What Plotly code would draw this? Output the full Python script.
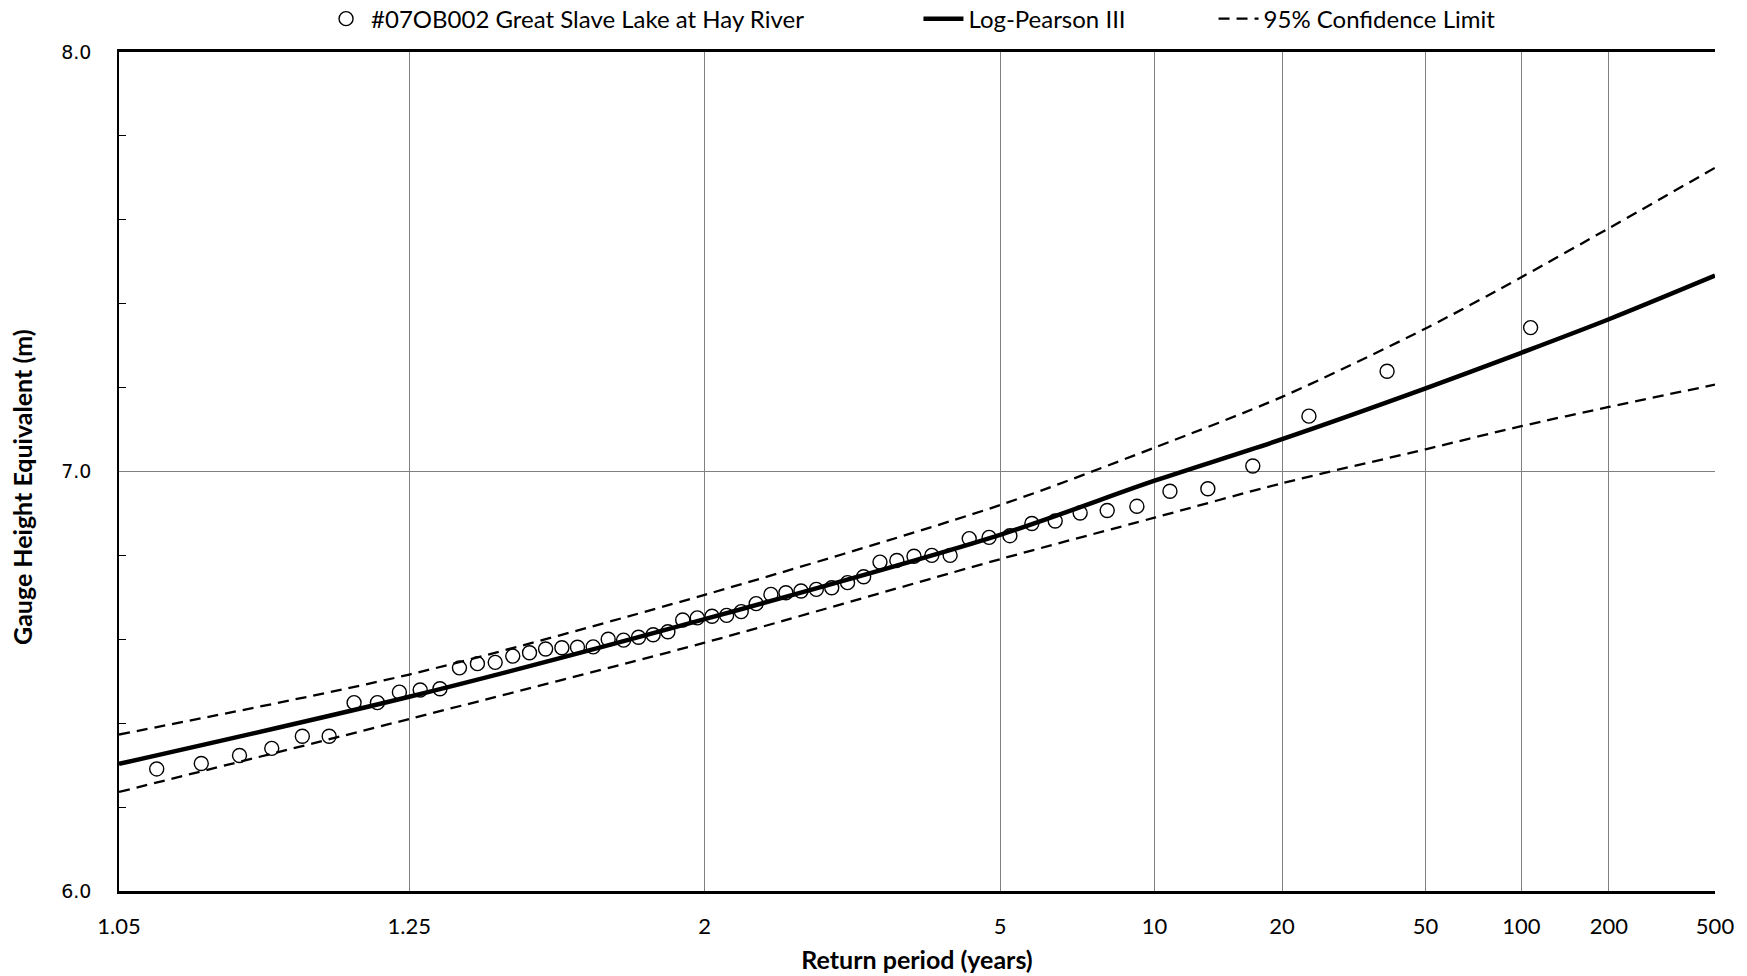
import plotly.graph_objects as go
from statistics import NormalDist

# ---------------- data ----------------
# Observed annual maxima (plotting-position return periods, years) and levels (m)
obs_return_period = [1.063, 1.082, 1.102, 1.122, 1.144, 1.166, 1.189, 1.213, 1.238, 1.264,
                     1.291, 1.320, 1.349, 1.380, 1.413, 1.447, 1.482, 1.520, 1.559, 1.601,
                     1.644, 1.691, 1.740, 1.791, 1.846, 1.905, 1.967, 2.034, 2.105, 2.181,
                     2.264, 2.352, 2.448, 2.552, 2.665, 2.788, 2.924, 3.074, 3.239, 3.424,
                     3.630, 3.864, 4.129, 4.434, 4.787, 5.201, 5.693, 6.289, 7.023, 7.952,
                     9.165, 10.81, 13.18, 16.89, 23.48, 38.54, 107.36]
obs_level = [6.291, 6.304, 6.323, 6.340, 6.369, 6.369, 6.449, 6.449, 6.474, 6.479,
             6.482, 6.532, 6.542, 6.545, 6.560, 6.568, 6.577, 6.580, 6.581, 6.582,
             6.600, 6.598, 6.605, 6.611, 6.618, 6.646, 6.651, 6.655, 6.657, 6.666,
             6.685, 6.707, 6.711, 6.715, 6.719, 6.723, 6.735, 6.749, 6.784, 6.788,
             6.798, 6.800, 6.800, 6.840, 6.843, 6.847, 6.876, 6.882, 6.901, 6.907,
             6.917, 6.953, 6.959, 7.013, 7.132, 7.239, 7.343]

curve_return_period = [1.05, 1.25, 2, 5, 10, 20, 50, 100, 200, 500]
lp3_level = [6.303, 6.463, 6.648, 6.849, 6.978, 7.077, 7.198, 7.283, 7.363, 7.467]
upper_cl = [6.373, 6.516, 6.706, 6.920, 7.057, 7.178, 7.341, 7.463, 7.580, 7.724]
lower_cl = [6.236, 6.410, 6.592, 6.791, 6.890, 6.972, 7.053, 7.108, 7.154, 7.207]

tick_periods = [1.05, 1.25, 2, 5, 10, 20, 50, 100, 200, 500]
tick_labels = ["1.05", "1.25", "2", "5", "10", "20", "50", "100", "200", "500"]

series_names = ["#07OB002 Great Slave Lake at Hay River", "Log-Pearson III", "95% Confidence Limit"]
x_title = "Return period (years)"
y_title = "Gauge Height Equivalent (m)"

# normal-probability axis transform
nd = NormalDist()
def zscale(T_list):
    return [nd.inv_cdf(1 - 1 / t) for t in T_list]

fig = go.Figure()

fig.add_trace(go.Scatter(
    x=zscale(obs_return_period), y=obs_level, mode="markers", name=series_names[0],
    marker=dict(symbol="circle-open", size=14, color="black", line=dict(width=1.4, color="black")),
    legend="legend",
))
fig.add_trace(go.Scatter(
    x=zscale(curve_return_period), y=lp3_level, mode="lines", name=series_names[1],
    line=dict(color="black", width=4.5, shape="spline", smoothing=0.8),
    legend="legend2",
))
fig.add_trace(go.Scatter(
    x=zscale(curve_return_period), y=upper_cl, mode="lines", name=series_names[2],
    line=dict(color="black", width=2.3, dash="11px,7px", shape="spline", smoothing=0.8),
    legend="legend3",
))
fig.add_trace(go.Scatter(
    x=zscale(curve_return_period), y=lower_cl, mode="lines", name=series_names[2],
    showlegend=False,
    line=dict(color="black", width=2.3, dash="11px,7px", shape="spline", smoothing=0.8),
    legend="legend3",
))

tz = zscale(tick_periods)

legend_font = dict(size=24, family="Lato, sans-serif", color="black")
leg_common = dict(orientation="h", y=1.0393, yanchor="middle", xanchor="left",
                  font=legend_font, bgcolor="rgba(0,0,0,0)", itemwidth=40)

fig.update_layout(
    width=1747, height=976,
    paper_bgcolor="white", plot_bgcolor="white",
    margin=dict(l=119, r=32, t=52, b=85, autoexpand=False),
    font=dict(family="Lato, sans-serif", color="black", size=20),
    legend=dict(x=0.1266, **leg_common),
    legend2=dict(x=0.5009, **leg_common),
    legend3=dict(x=0.6858, **leg_common),
    showlegend=True,
    annotations=[dict(
        text="<b>" + y_title + "</b>", textangle=-90, xref="paper", yref="paper",
        x=-0.0608, y=0.4815, xanchor="center", yanchor="middle", showarrow=False,
        font=dict(size=25, family="Lato, sans-serif", color="black"),
    )],
)

fig.update_xaxes(
    range=[tz[0], tz[-1]],
    tickmode="array", tickvals=tz, ticktext=tick_labels,
    showgrid=True, gridcolor="#808080", gridwidth=1,
    showline=True, linecolor="black", linewidth=3, mirror=True,
    ticks="", zeroline=False,
    tickfont=dict(size=22, family="Lato, sans-serif"),
    ticklabelstandoff=14,
    title=dict(text="<b>" + x_title + "</b>", font=dict(size=25, family="Lato, sans-serif"), standoff=14),
)
fig.update_yaxes(
    range=[6.0, 8.0], dtick=1.0, tick0=6.0, tickformat=".1f",
    showgrid=True, gridcolor="#808080", gridwidth=1,
    showline=True, linecolor="black", linewidth=1.5,
    ticks="", zeroline=False,
    minor=dict(dtick=0.2, ticks="inside", ticklen=7, tickcolor="black", tickwidth=1, showgrid=False),
    tickfont=dict(size=19, family="DejaVu Sans, Verdana, sans-serif"),
    ticklabelstandoff=22,
)

fig.write_html("out.html", config={"displayModeBar": False},
               post_script="document.body.style.margin='0';document.body.style.overflow='hidden';")
